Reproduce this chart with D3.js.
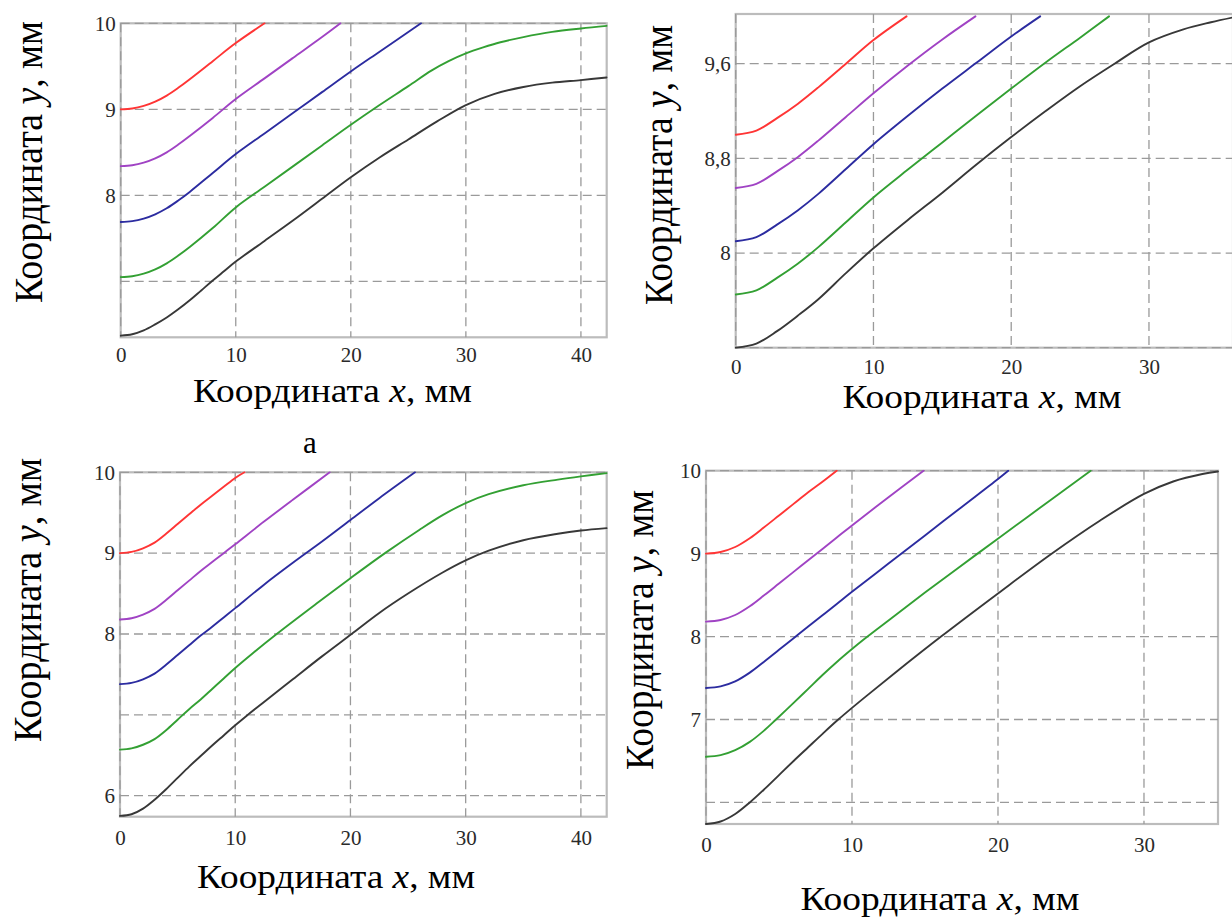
<!DOCTYPE html>
<html>
<head>
<meta charset="utf-8">
<script src="https://cdn.jsdelivr.net/npm/d3@7"></script>
<style>
  html, body { margin: 0; padding: 0; background: #fff; }
  svg { display: block; }
  text { font-family: "Liberation Serif", "Tinos", "Times New Roman", "DejaVu Serif", "Noto Serif", serif; }
</style>
</head>
<body>
<svg id="fig" width="1232" height="919"></svg>
<script>
// ---- series colours (same order in every panel) ----
const seriesColors = ["#ff3535", "#a043c4", "#2c2ca0", "#33a033", "#383838"];

// ---- panel A (top left) ----
const xTicksA = [0, 10, 20, 30, 40];
const yTicksA = [10, 9, 8, 7];
const yLabelsA = ["10", "9", "8", ""];
const xA_red = [0, 1, 2, 3, 4, 5, 6, 8, 10, 12.5];
const yA_red = [9.0, 9.01, 9.04, 9.09, 9.16, 9.25, 9.35, 9.56, 9.77, 10.0];
const xA_purple = [0, 1, 2, 3, 4, 5, 6, 8, 10, 12.5, 15, 17.5, 19.1];
const yA_purple = [8.34, 8.35, 8.38, 8.43, 8.50, 8.59, 8.69, 8.90, 9.12, 9.36, 9.60, 9.84, 10.0];
const xA_blue = [0, 1, 2, 3, 4, 5, 6, 8, 10, 12.5, 15, 17.5, 20, 22.5, 26.1];
const yA_blue = [7.69, 7.70, 7.73, 7.78, 7.85, 7.94, 8.04, 8.26, 8.48, 8.72, 8.96, 9.20, 9.44, 9.67, 10.0];
const xA_green = [0, 1, 2, 3, 4, 5, 6, 8, 10, 12.5, 15, 17.5, 20, 22.5, 25, 27, 28.5, 30, 31.5, 33, 35, 37.5, 40, 42.24];
const yA_green = [7.05, 7.06, 7.09, 7.14, 7.21, 7.30, 7.40, 7.62, 7.86, 8.10, 8.34, 8.58, 8.82, 9.05, 9.27, 9.45, 9.56, 9.65, 9.72, 9.78, 9.84, 9.90, 9.94, 9.97];
const xA_black = [0, 1, 2, 3, 4, 5, 6, 7, 8, 9, 10, 12.5, 15, 17.5, 20, 22.5, 25, 27.5, 30, 32.5, 35, 37.5, 40, 42.24];
const yA_black = [6.37, 6.385, 6.43, 6.50, 6.58, 6.675, 6.78, 6.895, 7.01, 7.12, 7.23, 7.47, 7.71, 7.96, 8.21, 8.44, 8.65, 8.86, 9.05, 9.18, 9.26, 9.31, 9.34, 9.37];

// ---- panel B (top right) ----
const xTicksB = [0, 10, 20, 30];
const yTicksB = [9.6, 8.8, 8, 7.2];
const yLabelsB = ["9,6", "8,8", "8", ""];
const xB_red = [0, 1.5, 3, 4.5, 6, 8, 10, 12.4];
const yB_red = [9.00, 9.035, 9.14, 9.26, 9.40, 9.60, 9.80, 10.0];
const xB_purple = [0, 1.5, 3, 4.5, 6, 8, 10, 12.5, 15, 17.4];
const yB_purple = [8.55, 8.585, 8.69, 8.81, 8.95, 9.15, 9.35, 9.585, 9.805, 10.0];
const xB_blue = [0, 1.5, 3, 4.5, 6, 8, 10, 12.5, 15, 17.5, 20, 22.1];
const yB_blue = [8.10, 8.135, 8.24, 8.36, 8.50, 8.71, 8.92, 9.16, 9.39, 9.61, 9.83, 10.0];
const xB_green = [0, 1.5, 3, 4.5, 6, 8, 10, 12.5, 15, 17.5, 20, 22.5, 25, 27.1];
const yB_green = [7.65, 7.685, 7.79, 7.91, 8.05, 8.26, 8.47, 8.705, 8.935, 9.165, 9.39, 9.61, 9.82, 10.0];
const xB_black = [0, 1.5, 3, 4.5, 6, 8, 10, 12.5, 15, 17.5, 20, 22.5, 25, 27.5, 30, 32.5, 34.5, 36.06];
const yB_black = [7.20, 7.235, 7.34, 7.47, 7.61, 7.83, 8.04, 8.28, 8.51, 8.75, 8.98, 9.20, 9.41, 9.60, 9.78, 9.89, 9.95, 9.99];

// ---- panel C (bottom left) ----
const xTicksC = [0, 10, 20, 30, 40];
const yTicksC = [10, 9, 8, 7, 6];
const yLabelsC = ["10", "9", "8", "", "6"];
const xC_red = [0, 1, 2, 3, 4, 5, 6, 7, 8, 9, 10, 10.8];
const yC_red = [9.0, 9.015, 9.06, 9.13, 9.24, 9.36, 9.48, 9.60, 9.71, 9.82, 9.93, 10.0];
const xC_purple = [0, 1, 2, 3, 4, 5, 6, 7, 8, 9, 10, 12.5, 15, 18.2];
const yC_purple = [8.18, 8.195, 8.24, 8.31, 8.42, 8.54, 8.66, 8.78, 8.89, 9.00, 9.11, 9.39, 9.66, 10.0];
const xC_blue = [0, 1, 2, 3, 4, 5, 6, 7, 8, 9, 10, 12.5, 15, 17.5, 20, 22.5, 25.6];
const yC_blue = [7.38, 7.395, 7.44, 7.51, 7.62, 7.74, 7.86, 7.98, 8.09, 8.205, 8.32, 8.61, 8.88, 9.14, 9.41, 9.68, 10.0];
const xC_green = [0, 1, 2, 3, 4, 5, 6, 7, 8, 9, 10, 11.5, 13.6, 17, 20, 23, 26, 28, 30, 32, 35, 38, 40, 42.24];
const yC_green = [6.57, 6.585, 6.63, 6.70, 6.81, 6.94, 7.07, 7.19, 7.32, 7.45, 7.58, 7.76, 8.0, 8.37, 8.69, 9.0, 9.29, 9.47, 9.62, 9.73, 9.84, 9.91, 9.95, 9.99];
const xC_black = [0, 1, 2, 3, 4, 5, 6, 7, 8, 9, 10, 11, 12.5, 15, 17.5, 20.1, 22.5, 25, 28, 30, 32, 35, 38, 40, 42.24];
const yC_black = [5.75, 5.77, 5.84, 5.95, 6.08, 6.22, 6.36, 6.49, 6.62, 6.745, 6.87, 6.99, 7.16, 7.44, 7.72, 8.0, 8.26, 8.5, 8.76, 8.91, 9.03, 9.16, 9.24, 9.28, 9.31];

// ---- panel D (bottom right) ----
const xTicksD = [0, 10, 20, 30];
const yTicksD = [10, 9, 8, 7, 6];
const yLabelsD = ["10", "9", "8", "7", ""];
const xD_red = [0, 1, 2, 3, 4, 5, 6, 7, 8, 8.95];
const yD_red = [9.0, 9.02, 9.08, 9.185, 9.32, 9.46, 9.60, 9.74, 9.87, 10.0];
const xD_purple = [0, 1, 2, 3, 4, 5, 6, 7, 8, 9, 10, 12.5, 14.9];
const yD_purple = [8.18, 8.20, 8.26, 8.365, 8.50, 8.64, 8.78, 8.92, 9.06, 9.20, 9.34, 9.68, 10.0];
const xD_blue = [0, 1, 2, 3, 4, 5, 6, 7, 8, 9, 10, 12.5, 15, 17.5, 20, 20.7];
const yD_blue = [7.38, 7.40, 7.46, 7.565, 7.70, 7.84, 7.98, 8.12, 8.26, 8.40, 8.54, 8.88, 9.22, 9.56, 9.90, 10.0];
const xD_green = [0, 1, 2, 3, 4, 4.8, 6, 7, 8, 9, 10, 10.8, 12.5, 15, 18.6, 22, 26.35];
const yD_green = [6.55, 6.57, 6.63, 6.73, 6.87, 7.0, 7.20, 7.37, 7.54, 7.70, 7.85, 7.965, 8.195, 8.53, 9.0, 9.44, 10.0];
const xD_black = [0, 1, 2, 3, 4, 5, 6, 7, 8, 9, 10, 11, 13, 16.1, 20, 23.6, 27, 30, 32, 34, 35.07];
const yD_black = [5.74, 5.77, 5.86, 6.0, 6.16, 6.33, 6.50, 6.665, 6.83, 6.99, 7.14, 7.285, 7.57, 8.0, 8.52, 8.99, 9.40, 9.72, 9.87, 9.96, 9.99];

// ---- axis titles ----
const yTitleParts = [["Координата ", "normal"], ["y", "italic"], [", мм", "normal"]];
const xTitleParts = [["Координата ", "normal"], ["x", "italic"], [", мм", "normal"]];
const subLabelA = "а";

// ---- layout of the four panels ----
const panels = [
  { id: "A", left: 120.7, right: 606.7, top: 23.3, bottom: 337.3, xDom: [0, 42.24], yDom: [6.35, 10],
    xTicks: xTicksA, yTicks: yTicksA, yLabels: yLabelsA, xLabelOff: 24.7,
    xs: [xA_red, xA_purple, xA_blue, xA_green, xA_black], ys: [yA_red, yA_purple, yA_blue, yA_green, yA_black],
    xt: { cx: 332.5, y: 401.7, len: 279 }, yt: { x: 41.7, cy: 162, len: 282 } },
  { id: "B", left: 735.7, right: 1233, top: 14, bottom: 347.7, xDom: [0, 36.1], yDom: [7.2, 10.02],
    xTicks: xTicksB, yTicks: yTicksB, yLabels: yLabelsB, xLabelOff: 26.3,
    xs: [xB_red, xB_purple, xB_blue, xB_green, xB_black], ys: [yB_red, yB_purple, yB_blue, yB_green, yB_black],
    xt: { cx: 982, y: 408, len: 279 }, yt: { x: 671.7, cy: 165, len: 280 } },
  { id: "C", left: 120, right: 606.7, top: 472.3, bottom: 816.7, xDom: [0, 42.24], yDom: [5.74, 10],
    xTicks: xTicksC, yTicks: yTicksC, yLabels: yLabelsC, xLabelOff: 28,
    xs: [xC_red, xC_purple, xC_blue, xC_green, xC_black], ys: [yC_red, yC_purple, yC_blue, yC_green, yC_black],
    xt: { cx: 336, y: 888.3, len: 278 }, yt: { x: 40.7, cy: 600, len: 284 } },
  { id: "D", left: 706, right: 1218, top: 470.7, bottom: 824, xDom: [0, 35.07], yDom: [5.74, 10],
    xTicks: xTicksD, yTicks: yTicksD, yLabels: yLabelsD, xLabelOff: 28,
    xs: [xD_red, xD_purple, xD_blue, xD_green, xD_black], ys: [yD_red, yD_purple, yD_blue, yD_green, yD_black],
    xt: { cx: 940, y: 910, len: 279 }, yt: { x: 653, cy: 630, len: 280 } }
];

const svg = d3.select("#fig");
const tickFont = 21;
const serifStack = "'Liberation Serif', 'Tinos', 'Times New Roman', 'DejaVu Serif', 'Noto Serif', serif";

function addTitle(g, parts, size) {
  const t = g.append("text").attr("font-size", size).attr("fill", "#000");
  parts.forEach(([s, style]) => t.append("tspan").attr("font-style", style).text(s));
  return t;
}

panels.forEach(p => {
  const w = p.right - p.left, h = p.bottom - p.top;
  const x = d3.scaleLinear().domain(p.xDom).range([0, w]);
  const y = d3.scaleLinear().domain(p.yDom).range([h, 0]);
  const g = svg.append("g").attr("transform", `translate(${p.left},${p.top})`);

  // frame
  g.append("rect").attr("width", w).attr("height", h)
    .attr("fill", "none").attr("stroke", "#bcbcbc").attr("stroke-width", 2.2);

  // dashed grid
  const grid = g.append("g").attr("stroke", "#9a9a9a").attr("stroke-width", 1.3)
    .attr("stroke-dasharray", "9,5").attr("fill", "none");
  grid.selectAll("line.gx").data(p.xTicks).join("line")
    .attr("x1", d => x(d)).attr("x2", d => x(d)).attr("y1", 0).attr("y2", h);
  grid.selectAll("line.gy").data(p.yTicks).join("line")
    .attr("x1", 0).attr("x2", w).attr("y1", d => y(d)).attr("y2", d => y(d));

  // curves
  const clipId = "clip" + p.id;
  g.append("clipPath").attr("id", clipId).append("rect")
    .attr("x", -1).attr("y", -1).attr("width", w + 2).attr("height", h + 2);
  const line = d3.line().x(d => x(d[0])).y(d => y(d[1])).curve(d3.curveCatmullRom.alpha(0.5));
  const curves = g.append("g").attr("clip-path", `url(#${clipId})`);
  p.xs.forEach((xv, i) => {
    const pts = xv.map((v, k) => [v, p.ys[i][k]]);
    curves.append("path").datum(pts).attr("d", line)
      .attr("fill", "none").attr("stroke", seriesColors[i]).attr("stroke-width", 1.9)
      .attr("stroke-linejoin", "round").attr("stroke-linecap", "round");
  });

  // tick labels
  const ax = g.append("g").attr("transform", `translate(0,${h})`)
    .call(d3.axisBottom(x).tickValues(p.xTicks).tickSize(0)
      .tickPadding(p.xLabelOff - 0.71 * tickFont).tickFormat(d3.format("d")));
  const ay = g.append("g")
    .call(d3.axisLeft(y).tickValues(p.yTicks).tickSize(0).tickPadding(5)
      .tickFormat((d, i) => p.yLabels[i]));
  [ax, ay].forEach(a => {
    a.attr("font-family", serifStack).attr("font-size", tickFont);
    a.select(".domain").remove();
    a.selectAll("text").attr("fill", "#2a2a2a");
  });

  // axis titles
  addTitle(svg, xTitleParts, 33)
    .attr("x", p.xt.cx).attr("y", p.xt.y).attr("text-anchor", "middle")
    .attr("textLength", p.xt.len).attr("lengthAdjust", "spacingAndGlyphs");
  addTitle(svg, yTitleParts, 39)
    .attr("text-anchor", "middle")
    .attr("transform", `translate(${p.yt.x},${p.yt.cy}) rotate(-90)`)
    .attr("textLength", p.yt.len).attr("lengthAdjust", "spacingAndGlyphs");
});

// sub-figure letter under panel A
svg.append("text").attr("x", 310).attr("y", 453).attr("text-anchor", "middle")
  .attr("font-size", 31).attr("fill", "#000").text(subLabelA);
</script>
</body>
</html>
